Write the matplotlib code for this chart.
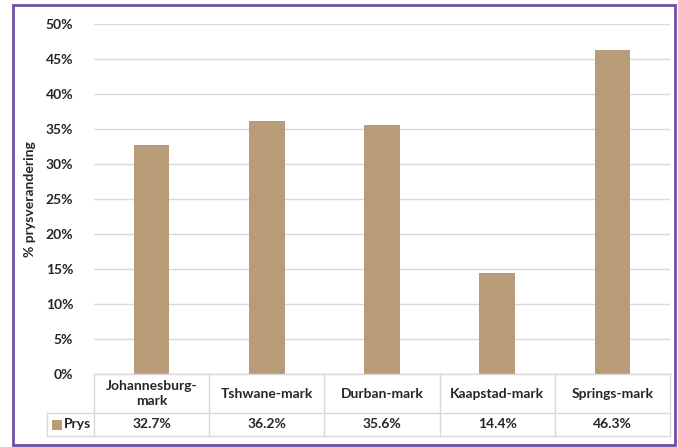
import matplotlib.pyplot as plt
from matplotlib.patches import Rectangle
from matplotlib.ticker import FuncFormatter

markets = ['Johannesburg-\nmark', 'Tshwane-mark', 'Durban-mark', 'Kaapstad-mark', 'Springs-mark']
prys = [32.7, 36.2, 35.6, 14.4, 46.3]
series_name = 'Prys'

bar_col = '#B89C78'
grid_col = '#D9D9D9'
txt_col = '#262626'
purple = '#6E4FA3'
plt.rcParams['font.family'] = ['Lato', 'DejaVu Sans']
fs = 10

W, H = 678, 447
fig = plt.figure(figsize=(W / 100, H / 100), dpi=100)
# plot area in pixels
x0, x1, ytop, ybot = 94, 670, 24, 374
ax = fig.add_axes([x0 / W, 1 - ybot / H, (x1 - x0) / W, (ybot - ytop) / H])

n = len(markets)
xs = range(n)
ax.bar(xs, prys, width=0.31, color=bar_col, zorder=3)
ax.set_xlim(-0.5, n - 0.5)
ax.set_ylim(0, 50)
ax.set_yticks(range(0, 51, 5))
ax.yaxis.set_major_formatter(FuncFormatter(lambda v, p: f'{v:.0f}%'))
ax.grid(axis='y', color=grid_col, linewidth=1, zorder=0)
ax.set_xticks([])
for s in ax.spines.values():
    s.set_visible(False)
ax.tick_params(axis='y', length=0, pad=15, labelsize=fs, labelcolor=txt_col)
for lab in ax.get_yticklabels():
    lab.set_fontweight('bold')
ax.set_ylabel('% prysverandering', fontsize=fs, fontweight='bold', color=txt_col)
ax.yaxis.set_label_coords(-0.101, 0.5)

# data table below the axes (x in data units, y in axes units)
tr = ax.get_xaxis_transform()
px = (x1 - x0) / n            # pixels per category
py = ybot - ytop              # pixels per axes unit in y
y_hdr = -(413 - ybot) / py
y_bot = -(436 - ybot) / py
x_lab = -0.5 - 47 / px        # left edge of the row-label cell
line_kw = dict(color=grid_col, linewidth=1, transform=tr, clip_on=False, zorder=5)
ax.plot([-0.5, n - 0.5], [0, 0], **line_kw)
ax.plot([x_lab, n - 0.5], [y_hdr, y_hdr], **line_kw)
ax.plot([x_lab, n - 0.5], [y_bot, y_bot], **line_kw)
ax.plot([x_lab, x_lab], [y_hdr, y_bot], **line_kw)
for i in range(n + 1):
    ax.plot([i - 0.5, i - 0.5], [0, y_bot], **line_kw)
for i, (m, v) in enumerate(zip(markets, prys)):
    ax.text(i, y_hdr / 2, m, transform=tr, ha='center', va='center', fontsize=fs,
            fontweight='bold', color=txt_col, linespacing=1.3)
    ax.text(i, (y_hdr + y_bot) / 2, f'{v:.1f}%', transform=tr, ha='center', va='center',
            fontsize=fs, fontweight='bold', color=txt_col)
ax.text(-0.5 - 30 / px, (y_hdr + y_bot) / 2, series_name, transform=tr, ha='left', va='center',
        fontsize=fs, fontweight='bold', color=txt_col)
sw = 10
ax.add_patch(Rectangle((-0.5 - 42 / px, (y_hdr + y_bot) / 2 - sw / 2 / py), sw / px, sw / py,
                       transform=tr, facecolor=bar_col, edgecolor='none', clip_on=False))

# purple frame around the chart
fig.patches.append(Rectangle((13 / W, 1 - 445 / H), 662 / W, 440 / H, transform=fig.transFigure,
                             facecolor='none', edgecolor=purple, linewidth=2))

fig.savefig('out.png', dpi=100)
